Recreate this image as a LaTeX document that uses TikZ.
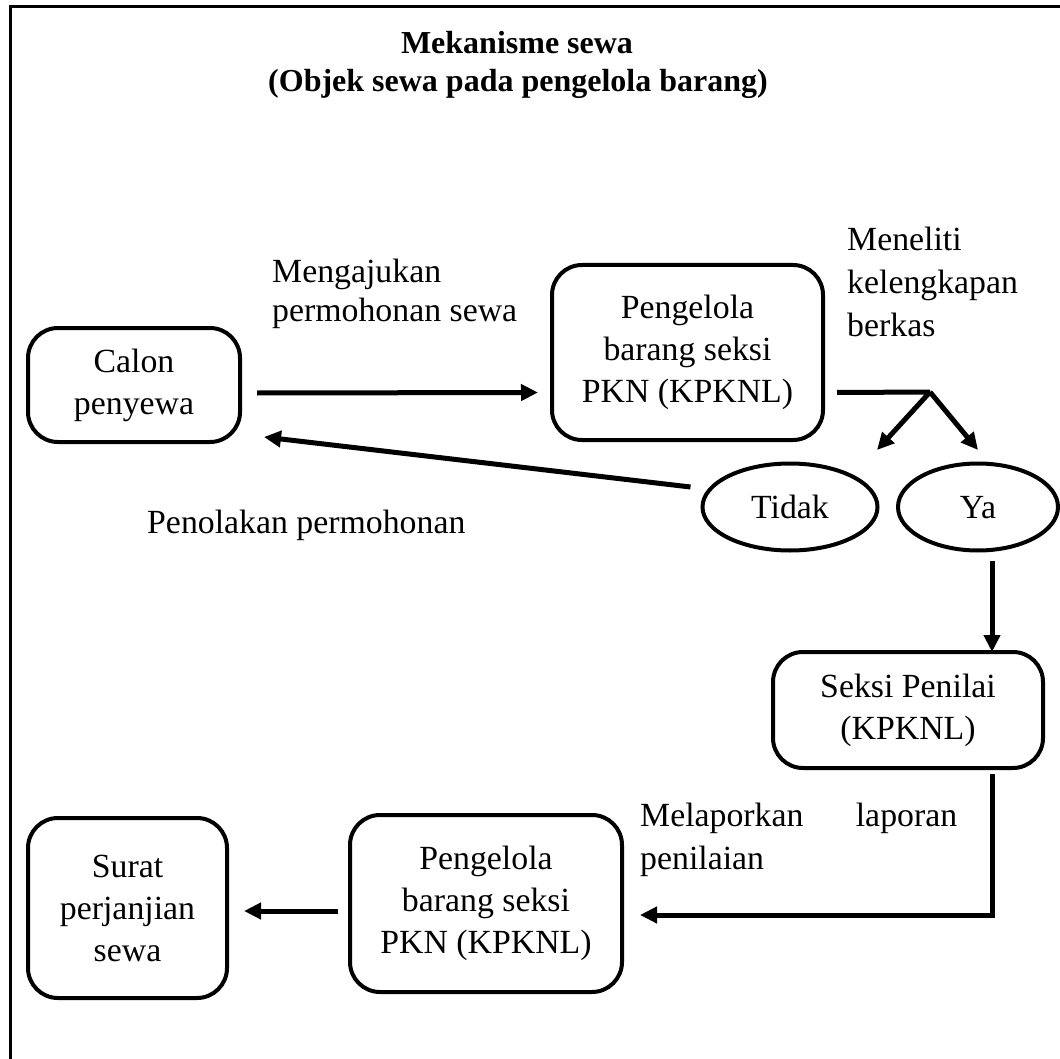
\documentclass[tikz,border=0pt]{standalone}
\usepackage{fontspec}
\setmainfont{Liberation Serif}
\usetikzlibrary{arrows.meta,shapes.geometric}
\begin{document}
\begin{tikzpicture}[x=1pt,y=-1pt,
  txt/.style={font=\fontsize{33.8}{42}\selectfont},
  box/.style={txt,draw,line width=4pt,rounded corners=30pt,align=center,inner sep=0pt},
  oval/.style={txt,draw,ellipse,line width=4pt,inner sep=0pt,text height=23pt,text depth=0pt},
  lbl/.style={txt,inner sep=0pt,anchor=base west},
  ttl/.style={font=\fontsize{32}{41}\selectfont\bfseries,inner sep=0pt,anchor=base},
  arr/.style={line width=5pt,-{Triangle[length=17pt,width=16pt]}},
  seg/.style={line width=5pt}]
\useasboundingbox (0,0) rectangle (1060,1059);
\clip (0,0) rectangle (1060,1059);
\draw[line width=3pt] (10,7) rectangle (1090,1090);

% title
\node[ttl] (t1) at (517,54) {Mekanisme sewa};
\node[ttl] (t2) at (518,92) {(Objek sewa pada pengelola barang)};

% boxes
\node[box,minimum width=212pt,minimum height=114pt] (calon) at (134,385) {Calon\\penyewa};
\node[box,minimum width=271pt,minimum height=175pt] (peng1) at (687.5,352.5) {Pengelola\\barang seksi\\PKN (KPKNL)};
\node[oval,minimum width=175pt,minimum height=87pt] (tidak) at (790,507) {Tidak};
\node[oval,minimum width=160pt,minimum height=87pt] (ya) at (978,507) {Ya};
\node[box,minimum width=270pt,minimum height=116pt] (seksi) at (908,710) {Seksi Penilai\\(KPKNL)};
\node[box,minimum width=272pt,minimum height=177pt] (peng2) at (486,903.5) {Pengelola\\barang seksi\\PKN (KPKNL)};
\node[box,minimum width=199pt,minimum height=180pt] (surat) at (127.5,908) {Surat\\perjanjian\\sewa};

% labels
\node[lbl] (la1) at (272,283) {Mengajukan};
\node[lbl] (la2) at (272,321) {permohonan sewa};
\node[lbl] (lb1) at (847,251) {Meneliti};
\node[lbl] (lb2) at (847,294) {kelengkapan};
\node[lbl] (lb3) at (847,337) {berkas};
\node[lbl] (lc1) at (147,533) {Penolakan permohonan};
\node[lbl] (ld1) at (640,826) {\makebox[317pt][s]{Melaporkan laporan}};
\node[lbl] (ld2) at (640,869) {penilaian};

% connectors
\draw[arr] ([xshift=15pt,yshift=-8pt]calon.east) -- ([xshift=-12pt,yshift=-40pt]peng1.west);
\coordinate (br) at (930,392);
\coordinate (tt) at (877,450);
\coordinate (yt) at (978,450);
\draw[seg] ([xshift=12pt,yshift=-40pt]peng1.east) -- (br);
\draw[arr] (br) -- (tt);
\draw[arr] (br) -- (yt);
\draw[arr] ([xshift=-10pt,yshift=20pt]tidak.west) -- ([xshift=22pt,yshift=-52pt]calon.east);
\draw[arr,shorten >=6pt] ([xshift=14pt,yshift=-8pt]ya.south) -- ([xshift=14pt,yshift=-8pt]ya.south |- seksi.north);
\draw[arr] ([xshift=84pt,yshift=-4pt]seksi.south) |- ([xshift=16pt,yshift=-11.5pt]peng2.east);
\draw[arr] ([xshift=-10pt,yshift=-7.5pt]peng2.west) -- ([xshift=15pt,yshift=-3pt]surat.east);
\end{tikzpicture}
\end{document}
